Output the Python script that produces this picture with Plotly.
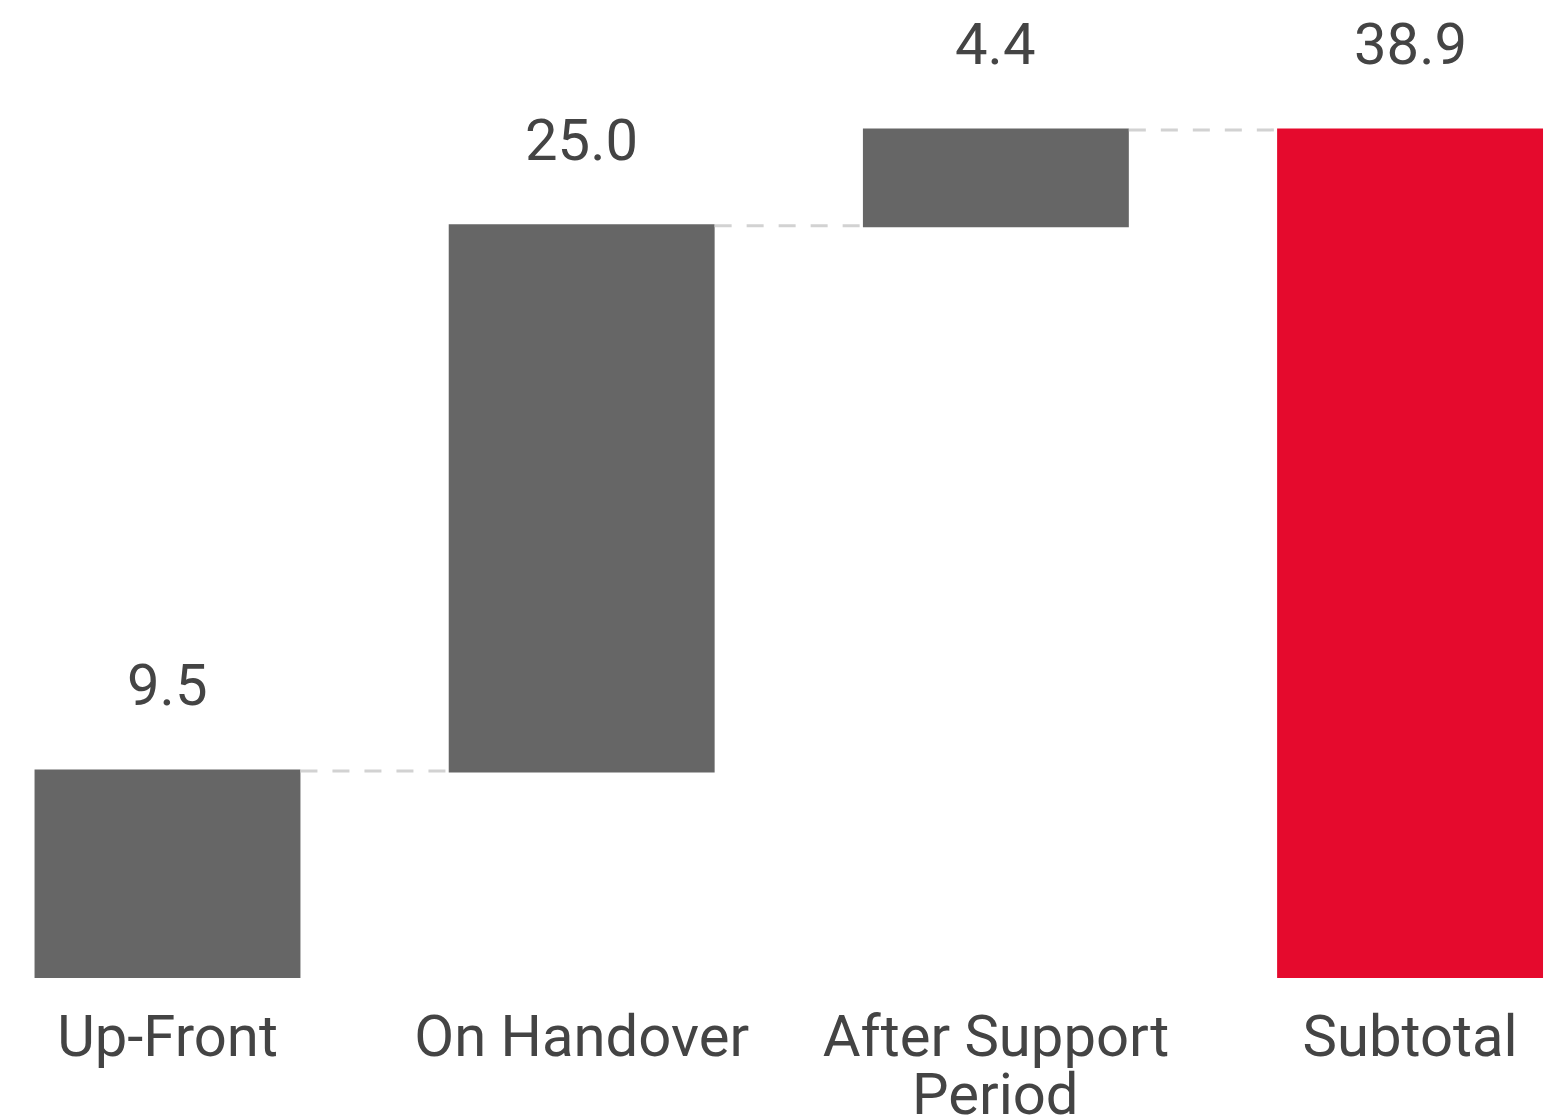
import plotly.graph_objects as go

categories = ["Up-Front", "On Handover", "After Support Period", "Subtotal"]
tick_labels = ["Up-Front", "On Handover", "After Support", "Subtotal"]
tick_second_lines = ["", "", "Period", ""]
values = [9.5, 25.0, 4.4, 38.9]
measures = ["relative", "relative", "relative", "total"]
value_labels = ["9.5", "25.0", "4.4", "38.9"]

GRAY = "#666666"
RED = "#E50A2D"
TEXT = "#444444"
FONT = "Roboto"

# tops of each bar
tops = []
run = 0.0
for v, m in zip(values, measures):
    if m == "total":
        tops.append(run)
    else:
        run += v
        tops.append(run)

fig = go.Figure()
fig.add_trace(go.Waterfall(
    x=categories,
    y=[v if m == "relative" else 0 for v, m in zip(values, measures)],
    measure=measures,
    width=0.642,
    increasing=dict(marker=dict(color=GRAY, line=dict(width=0))),
    totals=dict(marker=dict(color=RED, line=dict(width=0))),
    connector=dict(line=dict(color="#d2d2d2", width=3, dash="17px,15px")),
    hoverinfo="skip",
))

for c, t, lab in zip(categories, tops, value_labels):
    fig.add_annotation(x=c, y=t, text=lab, showarrow=False, yanchor="bottom",
                       yshift=50, font=dict(family=FONT, size=58, color=TEXT))

# second line of wrapped category labels (tight line spacing as in the reference)
for c, s in zip(categories, tick_second_lines):
    if s:
        fig.add_annotation(x=c, y=0, yref="paper", text=s, showarrow=False,
                           yanchor="top", yshift=-80,
                           font=dict(family=FONT, size=58, color=TEXT))

fig.update_layout(
    width=1560, height=1118,
    margin=dict(l=0, r=0, t=0, b=140, autoexpand=False),
    paper_bgcolor="white", plot_bgcolor="white",
    showlegend=False,
    xaxis=dict(range=[-0.4044, 3.362], tickvals=categories, ticktext=tick_labels,
               showgrid=False, zeroline=False, showline=False, ticks="",
               automargin=False, ticklabelstandoff=19,
               tickfont=dict(family=FONT, size=58, color=TEXT)),
    yaxis=dict(range=[0, 44.86], visible=False, showgrid=False, zeroline=False,
               automargin=False),
)

fig.write_html("out.html")
